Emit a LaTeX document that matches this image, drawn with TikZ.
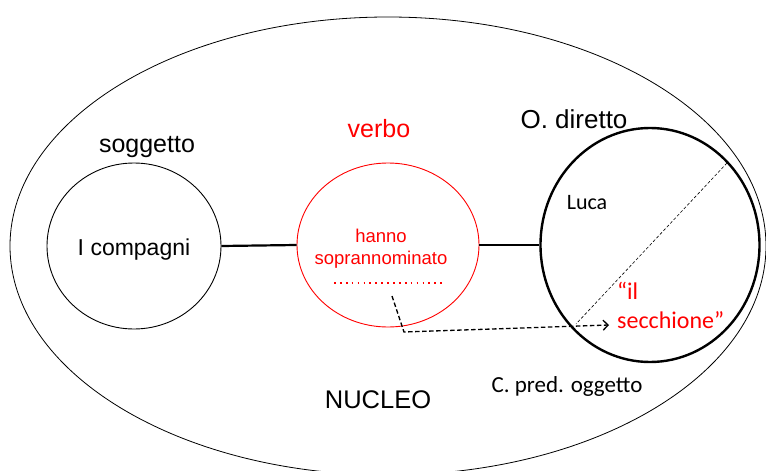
\documentclass[tikz,border=0pt]{standalone}
\usepackage{fontspec}
\setmainfont{Liberation Sans}
\newfontfamily\calib{Carlito}
\usetikzlibrary{shapes.geometric,arrows.meta}
\begin{document}
\begin{tikzpicture}[x=1pt,y=-1pt,
  circ/.style={ellipse,draw,inner sep=0pt},
  lbl/.style={anchor=base,inner sep=0pt},
  link/.style={line width=2.2pt}]
\useasboundingbox (0,0) rectangle (766,471);
\clip (0,0) rectangle (766,471);
\fill[white] (0,0) rectangle (766,471);
% outer ellipse
\node[circ,line width=0.8pt,minimum width=756pt,minimum height=458pt] (nucleo) at (388,246) {};
% component ellipses
\node[circ,line width=0.9pt,minimum width=174pt,minimum height=166pt] (sogg) at (134,246) {};
\node[circ,draw=red,line width=0.9pt,minimum width=182pt,minimum height=164pt] (verb) at (388,245) {};
\node[circ,line width=2.4pt,minimum width=219pt,minimum height=234pt] (od) at (650,245) {};
% connectors
\draw[link] (sogg.east) -- (verb.west);
\draw[link] (verb.east) -- (od.west);
% labels
\node[lbl,font=\fontsize{25}{28}\selectfont] (tsogg) at (147,152) {soggetto};
\node[lbl,font=\fontsize{23}{26}\selectfont] (tcomp) at (134,255) {I compagni};
\node[lbl,font=\fontsize{25}{28}\selectfont,text=red] (tverb) at (379,137) {verbo};
\node[lbl,font=\fontsize{18.5}{22}\selectfont,text=red] (thanno) at (381,242) {hanno};
\node[lbl,font=\fontsize{18.5}{22}\selectfont,text=red] (tsopr) at (381,264) {soprannominato};
\draw[red,line width=1.7pt,dash pattern=on 1.7pt off 4.2pt] (334,283) coordinate (d1) -- (446,283) coordinate (d2);
\node[lbl,font=\fontsize{26}{29}\selectfont] (tod) at (574,128) {O. diretto};
\node[lbl,font=\calib\fontsize{22}{26}\selectfont] (tluca) at (587,209) {Luca};
\node[lbl,anchor=base west,font=\calib\fontsize{24}{28}\selectfont,text=red] (til) at (617,299) {“il};
\node[lbl,anchor=base west,font=\calib\fontsize{24}{28}\selectfont,text=red] (tsec) at (617,328) {secchione”};
\node[lbl,font=\calib\fontsize{23}{27}\selectfont] (tcpo) at (567,392) {C. pred. oggetto};
\node[lbl,font=\fontsize{25.5}{29}\selectfont] (tnuc) at (378,408) {NUCLEO};
% diagonal dashed line
\coordinate (g1) at (727,163);
\coordinate (g2) at (576,324);
\draw[line width=0.6pt,dash pattern=on 3pt off 2pt] (g1) -- (g2);
% dashed arrow
\coordinate (a0) at (392,296);
\coordinate (a1) at (404,332);
\coordinate (a2) at (609,325);
\draw[line width=1.3pt,dash pattern=on 4.5pt off 2.5pt,-{Straight Barb[length=5pt,width=10pt]}] (a0) -- (a1) -- (a2);
\end{tikzpicture}
\end{document}
